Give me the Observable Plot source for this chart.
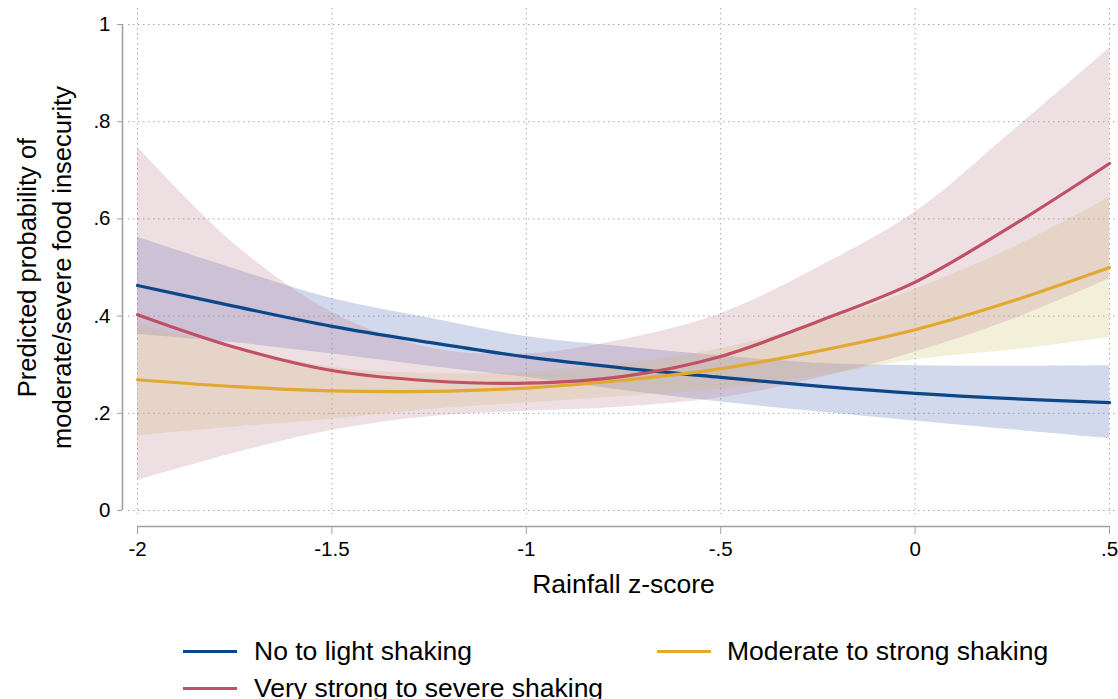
<!DOCTYPE html>
<html><head><meta charset="utf-8">
<script src="https://cdn.jsdelivr.net/npm/d3@7"></script>
<script src="https://cdn.jsdelivr.net/npm/@observablehq/plot@0.6"></script>
<style>
body{margin:0;background:#fff;font-family:"Liberation Sans",Arial,sans-serif;}
#wrap{position:relative;width:1118px;height:699px;overflow:hidden;}
#legend{position:absolute;left:0;top:620px;width:1118px;height:80px;}
.item{position:absolute;height:30px;line-height:30px;font-size:26.5px;color:#000;white-space:nowrap;}
.sw{position:absolute;width:54px;height:3px;}
</style></head><body><div id="wrap"><div id="chart"></div><div id="legend"></div></div>
<script>
const xs = [-2, -1.75, -1.5, -1.25, -1, -0.75, -0.5, -0.25, 0, 0.25, 0.5];

const noLight   = [0.463, 0.420, 0.379, 0.346, 0.316, 0.293, 0.274, 0.256, 0.241, 0.230, 0.222];
const noLightLo = [0.362, 0.345, 0.322, 0.297, 0.274, 0.247, 0.223, 0.203, 0.184, 0.166, 0.148];
const noLightHi = [0.562, 0.497, 0.436, 0.396, 0.358, 0.337, 0.318, 0.303, 0.298, 0.297, 0.298];

const moderate   = [0.269, 0.255, 0.246, 0.245, 0.252, 0.268, 0.292, 0.328, 0.372, 0.431, 0.500];
const moderateLo = [0.154, 0.172, 0.188, 0.208, 0.221, 0.235, 0.250, 0.276, 0.310, 0.330, 0.356];
const moderateHi = [0.385, 0.335, 0.295, 0.282, 0.284, 0.302, 0.333, 0.385, 0.455, 0.540, 0.644];

const veryStrong   = [0.403, 0.336, 0.288, 0.267, 0.262, 0.276, 0.317, 0.389, 0.470, 0.586, 0.714];
const veryStrongLo = [0.062, 0.118, 0.165, 0.193, 0.204, 0.213, 0.232, 0.272, 0.326, 0.393, 0.477];
const veryStrongHi = [0.748, 0.548, 0.408, 0.335, 0.322, 0.352, 0.405, 0.500, 0.614, 0.780, 0.951];

const seriesNames = ["No to light shaking", "Moderate to strong shaking", "Very strong to severe shaking"];
const lineColors = ["#0b4788", "#e2a82f", "#c14f65"];
const bandColors = ["#5068b2", "#cfc56a", "#bb7f90"];

const xTicks = [-2, -1.5, -1, -0.5, 0, 0.5];
const yTicks = [0, 0.2, 0.4, 0.6, 0.8, 1];
const xTitle = "Rainfall z-score";
const yTitle = "Predicted probability of\nmoderate/severe food insecurity";

const seriesData = [
  [noLight, noLightLo, noLightHi],
  [moderate, moderateLo, moderateHi],
  [veryStrong, veryStrongLo, veryStrongHi]
].map(([m, lo, hi], s) => xs.map((x, i) => ({series: seriesNames[s], x, y: m[i], lo: lo[i], hi: hi[i]})));

const fmt = d => d === 0 ? "0" : String(d).replace("0.", ".");
const axisGrey = "#a0a0a0";
const gridGrey = "#a8a8a8";

const plot = Plot.plot({
  width: 1118, height: 620,
  marginLeft: 137, marginRight: 9, marginTop: 24, marginBottom: 110,
  x: {domain: [-2, 0.5]},
  y: {domain: [0, 1]},
  style: {fontFamily: "'Liberation Sans', Arial, sans-serif", fontSize: "20.5px", color: "#000", background: "#fff"},
  marks: [
    Plot.ruleY(yTicks, {stroke: gridGrey, strokeWidth: 1, strokeDasharray: "1.5,3.5", insetLeft: -9, insetRight: -9}),
    Plot.ruleX(xTicks, {stroke: gridGrey, strokeWidth: 1, strokeDasharray: "1.5,3.5", insetTop: -16, insetBottom: -4}),
    ...seriesData.map((d, s) => Plot.areaY(d, {x: "x", y1: "lo", y2: "hi", fill: bandColors[s], fillOpacity: 0.25, curve: "catmull-rom"})),
    ...seriesData.map((d, s) => Plot.lineY(d, {x: "x", y: "y", stroke: lineColors[s], strokeWidth: 3.2, curve: "catmull-rom"})),
    Plot.ruleX([-2], {dx: -15, stroke: axisGrey, strokeWidth: 1.6}),
    Plot.ruleY([0], {dy: 16, stroke: axisGrey, strokeWidth: 1.6}),
    Plot.axisY(yTicks, {dx: -15, tickSize: 5, tickPadding: 7, tickFormat: fmt, stroke: axisGrey, fill: "#000", fontSize: 20.5, label: null}),
    Plot.axisX(xTicks, {dy: 16, tickSize: 8, tickPadding: 7, tickFormat: fmt, stroke: axisGrey, fill: "#000", fontSize: 20.5, label: null}),
    Plot.text([xTitle], {frameAnchor: "bottom", dy: 74, text: d => d, fontSize: 26.5, fill: "#000", lineAnchor: "middle"}),
    Plot.text([yTitle], {frameAnchor: "left", dx: -95, text: d => d, fontSize: 25.5, fill: "#000", rotate: -90, lineAnchor: "middle", lineHeight: 1.36, textAnchor: "middle"})
  ]
});
document.getElementById("chart").appendChild(plot);

// legend
const legendPos = [
  {sx: 183, tx: 254, cy: 651},
  {sx: 657, tx: 727, cy: 651},
  {sx: 183, tx: 254, cy: 688}
];
const leg = document.getElementById("legend");
seriesNames.forEach((name, i) => {
  const p = legendPos[i];
  const sw = document.createElement("div");
  sw.className = "sw";
  sw.style.left = p.sx + "px";
  sw.style.top = (p.cy - 620 - 1.5) + "px";
  sw.style.background = lineColors[i];
  leg.appendChild(sw);
  const t = document.createElement("div");
  t.className = "item";
  t.style.left = p.tx + "px";
  t.style.top = (p.cy - 620 - 15) + "px";
  t.textContent = name;
  leg.appendChild(t);
});
</script></body></html>
